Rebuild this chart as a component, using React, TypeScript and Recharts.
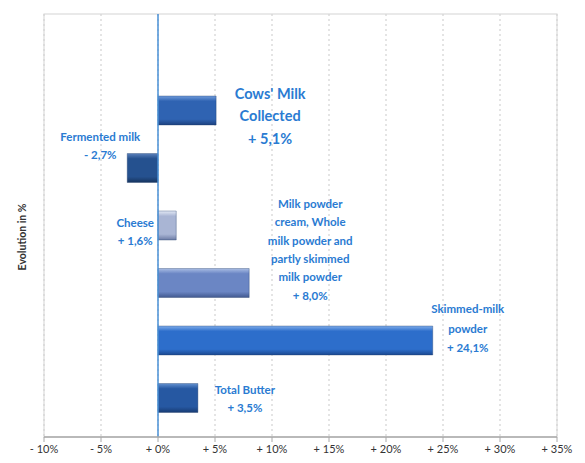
import React from 'react'
import {
  BarChart,
  Bar,
  XAxis,
  YAxis,
  CartesianGrid,
  Cell,
  LabelList,
  ReferenceLine,
} from 'recharts'

const categories = [
  "Cows' Milk Collected",
  'Fermented milk',
  'Cheese',
  'Milk powder cream, Whole milk powder and partly skimmed milk powder',
  'Skimmed-milk powder',
  'Total Butter',
]

const labelLines = [
  ["Cows' Milk", 'Collected'],
  ['Fermented milk'],
  ['Cheese'],
  ['Milk powder', 'cream, Whole', 'milk powder and', 'partly skimmed', 'milk powder'],
  ['Skimmed-milk', 'powder'],
  ['Total Butter'],
]

const evolution = [5.1, -2.7, 1.6, 8.0, 24.1, 3.5]

const tickValues = [-10, -5, 0, 5, 10, 15, 20, 25, 30, 35]
const tickLabels = ['- 10%', '- 5%', '+ 0%', '+ 5%', '+ 10%', '+ 15%', '+ 20%', '+ 25%', '+ 30%', '+ 35%']

// bar gradients: [light top, main, dark bottom]
const barColors = [
  ['#6f9bdb', '#2f63b2', '#1c417f'],
  ['#5a80bb', '#25518f', '#16345e'],
  ['#e3e9f5', '#a9b5d4', '#6c7ba5'],
  ['#a9bde4', '#6b86c4', '#41588f'],
  ['#7eacea', '#2d6ecb', '#1a4890'],
  ['#6290cf', '#2658a2', '#173b73'],
]

// label placement relative to the bar end / bar centre
const labelLayout = [
  { dx: 54, dy: -17.5, lh: 22.5, size: 14.5 },
  { dx: -27, dy: -31.5, lh: 18, size: 11.5 },
  { dx: -41, dy: -3, lh: 18, size: 11.5 },
  { dx: 61, dy: -79.5, lh: 18.3, size: 11.5 },
  { dx: 35, dy: -32, lh: 19.5, size: 11.5 },
  { dx: 47, dy: -8.5, lh: 18, size: 11.5 },
]

const data = categories.map((name, i) => ({ name, value: evolution[i] }))

function formatValue(v: number): string {
  return (v >= 0 ? '+ ' : '- ') + Math.abs(v).toFixed(1).replace('.', ',') + '%'
}

function BarLabel(props: any) {
  const { x, y, width, height, index } = props
  const v = evolution[index]
  const left = Math.min(x, x + width)
  const right = Math.max(x, x + width)
  const end = v >= 0 ? right : left
  const cy = y + height / 2
  const L = labelLayout[index]
  const lines = [...labelLines[index], formatValue(v)]
  return (
    <g>
      {lines.map((t, k) => (
        <text
          key={k}
          x={end + L.dx}
          y={cy + L.dy + k * L.lh}
          textAnchor="middle"
          dominantBaseline="central"
          fontFamily="Lato, 'Open Sans', sans-serif"
          fontWeight="bold"
          fontSize={L.size}
          fill="#2a7bd2"
        >
          {t}
        </text>
      ))}
    </g>
  )
}

export default function App() {
  return (
    <div style={{ position: 'absolute', left: 0, top: 0, width: 585, height: 463, background: '#fff' }}>
      <BarChart
        width={585}
        height={463}
        data={data}
        layout="vertical"
        margin={{ top: 14, right: 28, bottom: 0, left: 44 }}
      >
        <defs>
          {barColors.map((c, i) => (
            <linearGradient key={i} id={`bar${i}`} x1="0" y1="0" x2="0" y2="1">
              <stop offset="0%" stopColor={c[0]} />
              <stop offset="18%" stopColor={c[1]} />
              <stop offset="80%" stopColor={c[1]} />
              <stop offset="100%" stopColor={c[2]} />
            </linearGradient>
          ))}
        </defs>
        <CartesianGrid horizontal={false} stroke="#c9c9c9" strokeDasharray="2 3" />
        {/* plot frame */}
        <rect x={44} y={14} width={513} height={423} fill="none" stroke="#d4d4d4" />
        <XAxis
          type="number"
          domain={[-10, 35]}
          ticks={tickValues}
          allowDataOverflow
          height={26}
          tickFormatter={(v: number) => tickLabels[tickValues.indexOf(v)]}
          axisLine={{ stroke: '#a8a8a8', strokeWidth: 1.5 }}
          tickLine={{ stroke: '#a8a8a8' }}
          tickSize={5}
          tickMargin={3}
          tick={{ fontSize: 11, fill: '#333', fontFamily: "Lato, 'Open Sans', sans-serif" }}
          interval={0}
        />
        <YAxis type="category" dataKey="name" hide padding={{ top: 68, bottom: 10 }} />
        <Bar dataKey="value" barSize={29} isAnimationActive={false} stroke="#1e3a66" strokeOpacity={0.35}>
          {data.map((_, i) => (
            <Cell key={i} fill={`url(#bar${i})`} />
          ))}
          <LabelList dataKey="value" content={<BarLabel />} />
        </Bar>
        <ReferenceLine x={0} stroke="#4a90d6" strokeWidth={1.5} />
        <text
          x={22}
          y={237}
          transform="rotate(-90 22 237)"
          textAnchor="middle"
          dominantBaseline="central"
          fontFamily="Lato, 'Open Sans', sans-serif"
          fontWeight="bold"
          fontSize={10.5}
          fill="#333"
        >
          Evolution in %
        </text>
      </BarChart>
    </div>
  )
}
